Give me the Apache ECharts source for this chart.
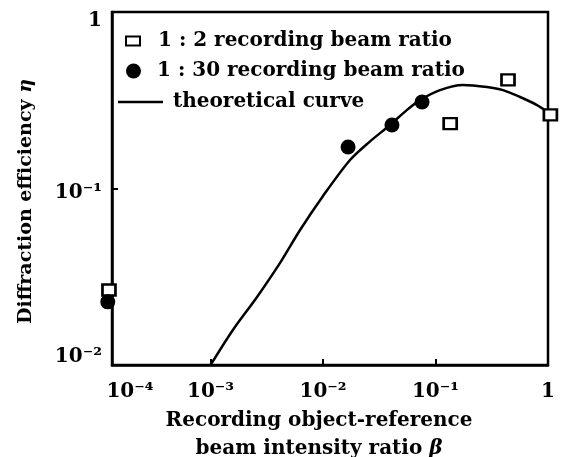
<!DOCTYPE html>
<html>
<head>
<meta charset="utf-8">
<script src="https://cdn.jsdelivr.net/npm/echarts@6/dist/echarts.min.js"></script>
<style>
  html, body { margin: 0; padding: 0; background: #fff; }
  #chart { width: 570px; height: 457px; }
</style>
</head>
<body>
<div id="chart"></div>
<script>
// tick labels
const xTickLabels = ['10⁻⁴', '10⁻³', '10⁻²', '10⁻¹', '1'];
const yTickLabels = ['10⁻²', '10⁻¹', '1'];

// theoretical curve
const curveBeta = [0.001, 0.00158, 0.00259, 0.00415, 0.00625, 0.01, 0.01738, 0.0262, 0.0394, 0.0558, 0.0728, 0.1096, 0.175, 0.287, 0.398, 0.564, 0.798, 1.0];
const curveEta = [0.01, 0.0158, 0.0243, 0.0379, 0.0582, 0.0907, 0.145, 0.185, 0.229, 0.279, 0.317, 0.361, 0.386, 0.376, 0.361, 0.330, 0.297, 0.271];

// 1:2 recording beam ratio (squares)
const sqBeta = [0.000125, 0.135, 0.441, 1.05];
const sqEta = [0.0266, 0.233, 0.412, 0.261];

// 1:30 recording beam ratio (dots)
const dotBeta = [0.000122, 0.0167, 0.041, 0.0759];
const dotEta = [0.0228, 0.172, 0.229, 0.309];

const font = 'DejaVu Serif';
const zip = (a, b) => a.map((v, i) => [v, b[i]]);
const legendText = (pad) => ({ fontFamily: font, fontWeight: 'bold', fontSize: 20, color: '#000', padding: [0, 0, 0, pad] });
const lab = (pad) => ({ fontFamily: font, fontWeight: 'bold', fontSize: 20, color: '#000', padding: pad });

const chart = echarts.init(document.getElementById('chart'));

const option = {
  backgroundColor: '#fff',
  animation: false,
  grid: {
    left: 112, right: 22, top: 12, bottom: 92,
    outerBoundsMode: 'none',
    show: true, borderColor: '#000', borderWidth: 2.5, backgroundColor: 'transparent'
  },
  legend: [
    {
      data: ['1 : 2 recording beam ratio'],
      left: 125, top: 31, padding: 0, itemWidth: 14, itemHeight: 9,
      textStyle: legendText(13)
    },
    {
      data: ['1 : 30 recording beam ratio'],
      left: 126, top: 61, padding: 0, itemWidth: 15, itemHeight: 15,
      textStyle: legendText(11)
    },
    {
      data: [{ name: 'theoretical curve', icon: 'rect' }],
      left: 118, top: 92, padding: 0, itemWidth: 45, itemHeight: 2.5,
      textStyle: legendText(5)
    }
  ],
  xAxis: {
    type: 'log', logBase: 10, min: 0.000133, max: 1,
    name: 'Recording object-reference\nbeam intensity ratio {i|β}',
    nameLocation: 'middle', nameGap: 36,
    nameTextStyle: {
      fontFamily: font, fontWeight: 'bold', fontSize: 20, color: '#000', lineHeight: 28,
      padding: [0, 22, 0, 0],
      rich: { i: { fontFamily: font, fontStyle: 'italic', fontWeight: 'bold', fontSize: 20, color: '#000', lineHeight: 28 } }
    },
    axisLine: { lineStyle: { color: '#000', width: 2.5 } },
    axisTick: { inside: true, length: 6, lineStyle: { color: '#000', width: 2 } },
    splitLine: { show: false },
    axisLabel: {
      showMinLabel: true, showMaxLabel: true, margin: 17,
      fontFamily: font, fontWeight: 'bold', fontSize: 20, color: '#000',
      formatter: function (v) {
        const i = Math.round(Math.log10(v)) + 4;
        if (v < 0.0002) return '{m|' + xTickLabels[i] + '}';
        return xTickLabels[i];
      },
      rich: { m: lab([0, 0, 0, 36]) }
    }
  },
  yAxis: {
    type: 'log', logBase: 10, min: 0.01, max: 1,
    name: 'Diffraction efficiency {i|η}',
    nameLocation: 'middle', nameGap: 76, nameRotate: 90,
    nameTextStyle: {
      fontFamily: font, fontWeight: 'bold', fontSize: 19, color: '#000',
      padding: [0, 26, 0, 0],
      rich: { i: { fontFamily: font, fontStyle: 'italic', fontSize: 19, color: '#000' } }
    },
    axisLine: { lineStyle: { color: '#000', width: 2.5 } },
    axisTick: { inside: true, length: 6, lineStyle: { color: '#000', width: 2 } },
    splitLine: { show: false },
    axisLabel: {
      showMinLabel: true, showMaxLabel: true, margin: 10,
      fontFamily: font, fontWeight: 'bold', fontSize: 20, color: '#000',
      formatter: function (v) {
        const i = Math.round(Math.log10(v)) + 2;
        return '{' + ['b', 'm', 't'][i] + '|' + yTickLabels[i] + '}';
      },
      rich: {
        t: lab([18, 0, 0, 0]),
        m: lab([8, 0, 0, 0]),
        b: lab([0, 0, 16, 0])
      }
    }
  },
  series: [
    {
      name: 'theoretical curve', type: 'line', smooth: 0.3, symbol: 'none',
      lineStyle: { color: '#000', width: 2.5 }, itemStyle: { color: '#000' },
      data: zip(curveBeta, curveEta), z: 2
    },
    {
      name: '1 : 2 recording beam ratio', type: 'scatter', symbol: 'rect', symbolSize: [13, 11],
      clip: false,
      itemStyle: { color: '#fff', borderColor: '#000', borderWidth: 2.5, opacity: 1 },
      data: zip(sqBeta, sqEta), z: 3
    },
    {
      name: '1 : 30 recording beam ratio', type: 'scatter', symbol: 'circle', symbolSize: 15,
      clip: false,
      itemStyle: { color: '#000', opacity: 1 },
      data: zip(dotBeta, dotEta), z: 3
    }
  ]
};

chart.setOption(option);
</script>
</body>
</html>
